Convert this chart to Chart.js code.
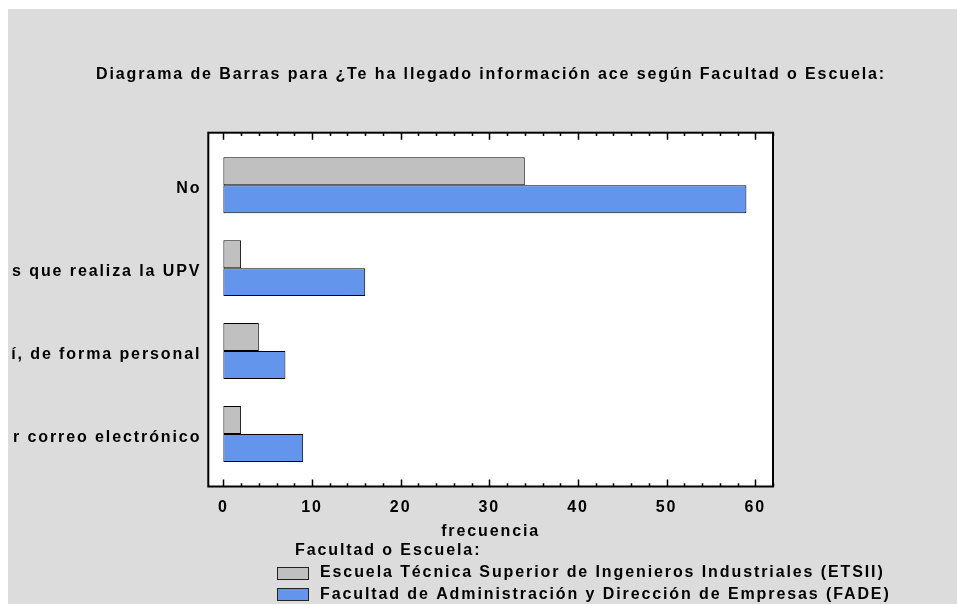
<!DOCTYPE html>
<html><head><meta charset="utf-8">
<script src="https://cdn.jsdelivr.net/npm/chart.js@4.4.0/dist/chart.umd.min.js"></script>
<style>
html,body{margin:0;padding:0;background:#fff;width:957px;height:604px;overflow:hidden;}
#wrap{position:absolute;left:8px;top:9px;width:949px;height:595px;background:#dcdcdc;}
canvas{display:block;}
</style></head><body>
<div id="wrap"><canvas id="c" width="949" height="595"></canvas></div>
<script>
const categories = ["No", "Sí, en las charlas informativas que realiza la UPV", "Sí, de forma personal", "Sí, por correo electrónico"];
const seriesNames = ["Escuela Técnica Superior de Ingenieros Industriales (ETSII)", "Facultad de Administración y Dirección de Empresas (FADE)"];
const etsiiValues = [34, 2, 4, 2];
const fadeValues = [59, 16, 7, 9];
const xTickValues = [0, 10, 20, 30, 40, 50, 60];
const titleText = "Diagrama de Barras para ¿Te ha llegado información ace según Facultad o Escuela:";
const xAxisTitle = "frecuencia";
const legendTitle = "Facultad o Escuela:";

const FAMILY = '"Liberation Sans", Arial, sans-serif';
const F = {family: FAMILY, size: 16, weight: 'bold'};
const SPACING = '1.9px';

const spacingPlugin = {
  id: 'spacing',
  beforeUpdate(chart) { chart.ctx.letterSpacing = SPACING; },
  beforeDraw(chart) {
    const ctx = chart.ctx;
    ctx.letterSpacing = SPACING;
    ctx.save();
    ctx.beginPath(); ctx.rect(4, 0, chart.width - 4, chart.height); ctx.clip();
  },
  afterDraw(chart) { chart.ctx.restore(); chart.ctx.letterSpacing = SPACING; }
};
const titlePlugin = {
  id: 'customTitle',
  afterDraw(chart) {
    const ctx = chart.ctx;
    ctx.save();
    ctx.letterSpacing = SPACING;
    ctx.font = 'bold 16px ' + FAMILY;
    ctx.fillStyle = '#000'; ctx.textAlign = 'center'; ctx.textBaseline = 'middle';
    ctx.fillText(titleText, 483, 66);
    ctx.restore();
  }
};
const bgPlugin = {
  id: 'plotBg',
  beforeDatasetsDraw(chart) {
    const {ctx, chartArea: a} = chart;
    ctx.save(); ctx.fillStyle = '#ffffff';
    ctx.fillRect(a.left, a.top, a.right - a.left, a.bottom - a.top);
    ctx.restore();
  }
};
const framePlugin = {
  id: 'frame',
  afterDatasetsDraw(chart) {
    const {ctx, chartArea: a, scales: {x}} = chart;
    ctx.save();
    ctx.strokeStyle = '#000'; ctx.lineWidth = 2;
    ctx.strokeRect(a.left, a.top, a.right - a.left, a.bottom - a.top);
    ctx.lineWidth = 1.5;
    for (let v = 0; v <= x.max; v += 2) {
      const px = Math.round(x.getPixelForValue(v)) + 0.5;
      const len = v % 10 === 0 ? 7 : 3.3;
      ctx.beginPath();
      ctx.moveTo(px, a.bottom); ctx.lineTo(px, a.bottom - len);
      ctx.moveTo(px, a.top); ctx.lineTo(px, a.top + len);
      ctx.stroke();
    }
    ctx.restore();
  }
};
const legendPlugin = {
  id: 'customLegend',
  afterDraw(chart) {
    const ctx = chart.ctx;
    ctx.save();
    ctx.letterSpacing = SPACING;
    ctx.font = 'bold 16px ' + FAMILY;
    ctx.fillStyle = '#000'; ctx.textBaseline = 'middle'; ctx.textAlign = 'left';
    ctx.fillText(legendTitle, 287, 542);
    chart.data.datasets.forEach((ds, i) => {
      const y = 564 + i * 21.5;
      ctx.fillStyle = ds.backgroundColor;
      ctx.fillRect(269, Math.round(y - 6.5), 32, 13);
      ctx.strokeStyle = '#222'; ctx.lineWidth = 1;
      ctx.strokeRect(269.5, Math.round(y - 6.5) + 0.5, 31, 12);
      ctx.fillStyle = '#000';
      ctx.fillText(ds.label, 312, y);
    });
    ctx.restore();
  }
};

new Chart(document.getElementById('c'), {
  type: 'bar',
  data: {
    datasets: [
      {label: seriesNames[0], data: etsiiValues.map((v, i) => ({x: v, y: i})), backgroundColor: '#c0c0c0', borderColor: '#000', borderWidth: 1, borderSkipped: false},
      {label: seriesNames[1], data: fadeValues.map((v, i) => ({x: v, y: i})), backgroundColor: '#6495ed', borderColor: '#000', borderWidth: 1, borderSkipped: false}
    ]
  },
  options: {
    indexAxis: 'y',
    responsive: false,
    animation: false,
    devicePixelRatio: 1,
    categoryPercentage: 0.675,
    barPercentage: 1,
    layout: {padding: {left: 0, right: 184, top: 123.7, bottom: 0}},
    plugins: {
      legend: {display: false},
      tooltip: {enabled: false},
      title: {display: false}
    },
    scales: {
      x: {
        type: 'linear', min: -1.7, max: 62, offset: false,
        grid: {display: false, drawTicks: false},
        border: {display: false},
        afterBuildTicks: s => { s.ticks = xTickValues.map(v => ({value: v})); },
        ticks: {padding: 11, color: '#000', font: F, maxRotation: 0, autoSkip: false},
        title: {display: true, text: xAxisTitle, color: '#000', font: F, padding: {top: 0, bottom: 62.5}},
        afterFit: s => { s.height = 117.5; }
      },
      y: {
        type: 'linear', min: -0.633, max: 3.633, reverse: true, offset: false,
        grid: {display: false, drawTicks: false},
        border: {display: false},
        afterBuildTicks: s => { s.ticks = categories.map((c, i) => ({value: i})); },
        ticks: {padding: 7, labelOffset: 3.5, color: '#000', font: F, autoSkip: false, callback: v => categories[v] ?? ''},
        afterFit: s => { s.width = 200.3; }
      }
    }
  },
  plugins: [spacingPlugin, bgPlugin, framePlugin, legendPlugin, titlePlugin]
});
</script>
</body></html>
